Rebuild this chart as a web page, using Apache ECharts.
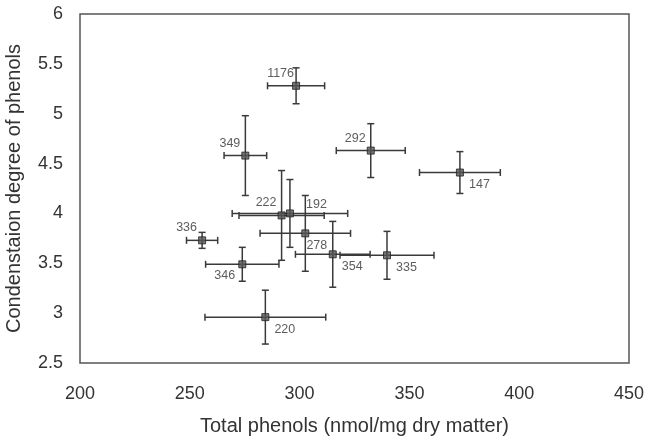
<!DOCTYPE html>
<html>
<head>
<meta charset="utf-8">
<script src="https://cdn.jsdelivr.net/npm/echarts@6/dist/echarts.min.js"></script>
<style>
  html, body { margin: 0; padding: 0; background: #fff; }
  #chart { width: 647px; height: 439px; }
</style>
</head>
<body>
<div id="chart"></div>
<script>
// sample ids shown next to each point
const ids = ['1176', '349', '292', '147', '222', '192', '278', '354', '335', '336', '346', '220'];
// total phenols (x) and its error
const phenols = [298.4, 275.3, 332.4, 373.0, 291.8, 295.6, 302.6, 315.1, 339.8, 255.6, 273.9, 284.4];
const phenolsErr = [13.0, 9.7, 15.7, 18.4, 19.4, 26.3, 20.6, 17.0, 21.4, 7.1, 16.7, 27.5];
// condensation degree (y) and its error
const condensation = [5.28, 4.58, 4.63, 4.41, 3.98, 4.00, 3.80, 3.59, 3.58, 3.73, 3.49, 2.96];
const condErr = [0.18, 0.40, 0.27, 0.21, 0.45, 0.34, 0.38, 0.33, 0.24, 0.08, 0.17, 0.27];
// which side of the point the id goes
const labelSide = ['tl', 'tl', 'tl', 'br', 'tl', 'tr', 'b', 'br', 'br', 'tl', 'bl', 'br'];

const sideOffset = { tl: [-15, -12], tr: [27, -8], b: [12, 13], br: [20, 13], bl: [-17, 12] };
const FONT = "'Liberation Sans', Arial, sans-serif";
const INK = '#3a3a3a';

const chart = echarts.init(document.getElementById('chart'));

const errorData = ids.map((id, i) => [
  phenols[i], condensation[i],
  phenols[i] - phenolsErr[i], phenols[i] + phenolsErr[i],
  condensation[i] - condErr[i], condensation[i] + condErr[i]
]);

const pointData = ids.map((id, i) => {
  const off = sideOffset[labelSide[i]];
  return {
    value: [phenols[i], condensation[i]],
    name: id,
    label: { position: [3.5 + off[0], 3.5 + off[1]] }
  };
});

function renderErrorBar(params, api) {
  const x = api.value(0), y = api.value(1);
  const left = api.coord([api.value(2), y]);
  const right = api.coord([api.value(3), y]);
  const bottom = api.coord([x, api.value(4)]);
  const top = api.coord([x, api.value(5)]);
  const cap = 3.5;
  const style = { stroke: INK, lineWidth: 1.5 };
  const line = (x1, y1, x2, y2) => ({ type: 'line', shape: { x1, y1, x2, y2 }, style });
  return {
    type: 'group',
    children: [
      line(left[0], left[1], right[0], right[1]),
      line(left[0], left[1] - cap, left[0], left[1] + cap),
      line(right[0], right[1] - cap, right[0], right[1] + cap),
      line(top[0], top[1], bottom[0], bottom[1]),
      line(top[0] - cap, top[1], top[0] + cap, top[1]),
      line(bottom[0] - cap, bottom[1], bottom[0] + cap, bottom[1])
    ]
  };
}

chart.setOption({
  animation: false,
  textStyle: { fontFamily: FONT },
  grid: {
    left: 80, right: 18, top: 14, bottom: 76,
    outerBoundsMode: 'none',
    show: true, borderColor: '#555', borderWidth: 1.5
  },
  xAxis: {
    type: 'value', min: 200, max: 450, interval: 50,
    name: 'Total phenols (nmol/mg dry matter)',
    nameLocation: 'middle', nameGap: 53,
    nameTextStyle: { fontSize: 20, color: '#333', fontFamily: FONT },
    axisLine: { show: false }, axisTick: { show: false }, splitLine: { show: false },
    axisLabel: { fontSize: 18, color: '#333', margin: 22, fontFamily: FONT }
  },
  yAxis: {
    type: 'value', min: 2.5, max: 6, interval: 0.5,
    name: 'Condenstaion degree of phenols',
    nameLocation: 'middle', nameGap: 56,
    nameTextStyle: { fontSize: 20, color: '#333', fontFamily: FONT },
    axisLine: { show: false }, axisTick: { show: false }, splitLine: { show: false },
    axisLabel: { fontSize: 18, color: '#333', margin: 17, fontFamily: FONT }
  },
  series: [
    {
      type: 'custom',
      renderItem: renderErrorBar,
      data: errorData,
      encode: { x: [0, 2, 3], y: [1, 4, 5] },
      z: 2
    },
    {
      type: 'scatter',
      symbol: 'rect',
      symbolSize: 7,
      itemStyle: { color: '#555', borderColor: '#222', borderWidth: 1 },
      label: {
        show: true,
        formatter: p => p.name,
        align: 'center',
        verticalAlign: 'middle',
        fontSize: 12.5,
        color: '#333',
        fontFamily: FONT
      },
      data: pointData,
      z: 3
    }
  ]
});
</script>
</body>
</html>
